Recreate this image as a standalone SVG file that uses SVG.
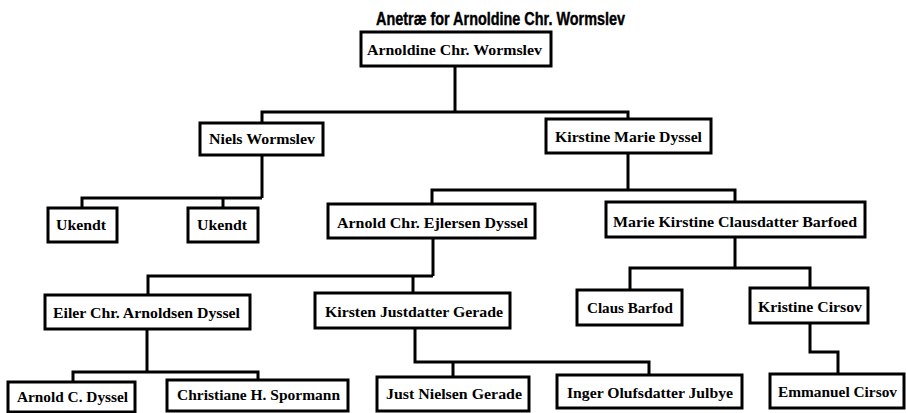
<svg xmlns="http://www.w3.org/2000/svg" width="906" height="413" viewBox="0 0 906 413">
<style>
.bg{fill:#ffffff}
.box{fill:#ffffff;stroke:#000000;stroke-width:3}
.lbl{font-family:"Liberation Serif","Times New Roman",serif;font-weight:bold;font-size:15px;fill:#000000;text-anchor:middle}
.title{font-family:"Liberation Sans",Arial,sans-serif;font-weight:bold;font-size:18px;fill:#000000;text-anchor:middle;stroke:#000000;stroke-width:0.4}
.con{fill:none;stroke:#000000;stroke-width:3;stroke-linejoin:miter}
</style>
<rect class="bg" x="0" y="0" width="906" height="413"/>
<text class="title" x="500.5" y="25" textLength="249" lengthAdjust="spacingAndGlyphs">Anetræ for Arnoldine Chr. Wormslev</text>
<g id="connectors">
<path class="con" d="M455,66 V112 M262,123 V112 H628 V119"/>
<path class="con" d="M262,155 V198 M82,208 V198 H262 M223,198 V208"/>
<path class="con" d="M628,153 V190 M432,204 V190 H735 V202"/>
<path class="con" d="M433,238 V276 M148,295 V276 H433 M413,276 V293"/>
<path class="con" d="M735,237 V268 M630,290 V268 H810 V288"/>
<path class="con" d="M147,329 V372 M73,382 V372 H258 V380"/>
<path class="con" d="M415,328 V362 H649 V375 M453,362 V377"/>
<path class="con" d="M810,323 V352 H838 V374"/>
</g>
<g id="n1"><rect class="box" x="361" y="32" width="190" height="34"/><text class="lbl" x="454.5" y="55" textLength="175" lengthAdjust="spacingAndGlyphs">Arnoldine Chr. Wormslev</text></g>
<g id="n2"><rect class="box" x="200" y="123" width="123" height="32"/><text class="lbl" x="262" y="144" textLength="106" lengthAdjust="spacingAndGlyphs">Niels Wormslev</text></g>
<g id="n3"><rect class="box" x="546" y="119" width="165" height="34"/><text class="lbl" x="628.5" y="142" textLength="147" lengthAdjust="spacingAndGlyphs">Kirstine Marie Dyssel</text></g>
<g id="n4"><rect class="box" x="48" y="208" width="69" height="34"/><text class="lbl" x="81" y="230" textLength="50" lengthAdjust="spacingAndGlyphs">Ukendt</text></g>
<g id="n5"><rect class="box" x="188" y="208" width="70" height="34"/><text class="lbl" x="222" y="230" textLength="50" lengthAdjust="spacingAndGlyphs">Ukendt</text></g>
<g id="n6"><rect class="box" x="328" y="204" width="207" height="34"/><text class="lbl" x="432.5" y="228" textLength="191" lengthAdjust="spacingAndGlyphs">Arnold Chr. Ejlersen Dyssel</text></g>
<g id="n7"><rect class="box" x="606" y="202" width="259" height="35"/><text class="lbl" x="735" y="227" textLength="244" lengthAdjust="spacingAndGlyphs">Marie Kirstine Clausdatter Barfoed</text></g>
<g id="n8"><rect class="box" x="45" y="295" width="205" height="34"/><text class="lbl" x="146.5" y="318" textLength="187" lengthAdjust="spacingAndGlyphs">Eiler Chr. Arnoldsen Dyssel</text></g>
<g id="n9"><rect class="box" x="315" y="293" width="195" height="35"/><text class="lbl" x="414" y="317" textLength="178" lengthAdjust="spacingAndGlyphs">Kirsten Justdatter Gerade</text></g>
<g id="n10"><rect class="box" x="577" y="290" width="105" height="35"/><text class="lbl" x="630" y="313" textLength="86" lengthAdjust="spacingAndGlyphs">Claus Barfod</text></g>
<g id="n11"><rect class="box" x="750" y="288" width="118" height="35"/><text class="lbl" x="810" y="312" textLength="104" lengthAdjust="spacingAndGlyphs">Kristine Cirsov</text></g>
<g id="n12"><rect class="box" x="8" y="382" width="127" height="30"/><text class="lbl" x="72.5" y="402" textLength="111" lengthAdjust="spacingAndGlyphs">Arnold C. Dyssel</text></g>
<g id="n13"><rect class="box" x="167" y="380" width="181" height="31"/><text class="lbl" x="258.5" y="400" textLength="163" lengthAdjust="spacingAndGlyphs">Christiane H. Spormann</text></g>
<g id="n14"><rect class="box" x="377" y="377" width="152" height="34"/><text class="lbl" x="454" y="399" textLength="136" lengthAdjust="spacingAndGlyphs">Just Nielsen Gerade</text></g>
<g id="n15"><rect class="box" x="557" y="375" width="185" height="33"/><text class="lbl" x="650" y="398" textLength="166" lengthAdjust="spacingAndGlyphs">Inger Olufsdatter Julbye</text></g>
<g id="n16"><rect class="box" x="770" y="374" width="134" height="34"/><text class="lbl" x="837.5" y="397" textLength="119" lengthAdjust="spacingAndGlyphs">Emmanuel Cirsov</text></g>
</svg>
